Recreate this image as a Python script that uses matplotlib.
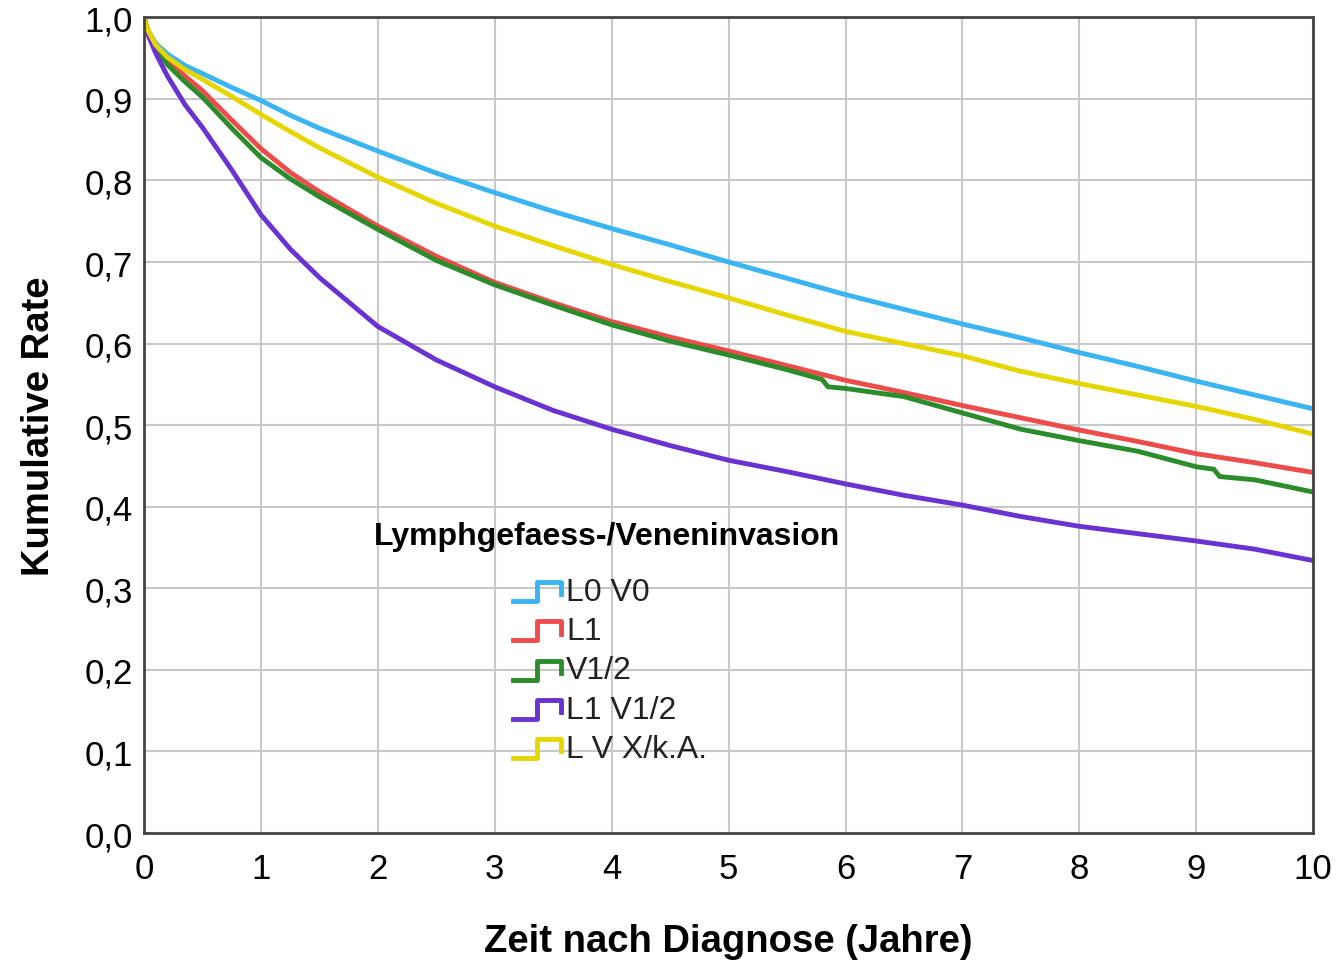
import matplotlib
matplotlib.use('Agg')
import matplotlib.pyplot as plt
from matplotlib.lines import Line2D
from matplotlib.legend_handler import HandlerBase

plt.rcParams['font.family'] = ['Liberation Sans', 'DejaVu Sans']

years = [0, 0.03, 0.1, 0.2, 0.35, 0.5, 0.75, 1, 1.25, 1.5, 2, 2.5, 3, 3.5, 4, 4.5, 5,
         5.5, 6, 6.5, 7, 7.5, 8, 8.5, 9, 9.5, 10]
l0v0 = [1.0, 0.985, 0.968, 0.955, 0.941, 0.931, 0.914, 0.898, 0.880, 0.864, 0.836,
        0.809, 0.785, 0.762, 0.741, 0.721, 0.700, 0.680, 0.660, 0.642, 0.624,
        0.607, 0.589, 0.572, 0.554, 0.537, 0.520]
l1 = [1.0, 0.985, 0.965, 0.947, 0.928, 0.910, 0.874, 0.839, 0.810, 0.786, 0.744,
      0.707, 0.675, 0.650, 0.627, 0.608, 0.591, 0.573, 0.555, 0.540, 0.524,
      0.509, 0.494, 0.480, 0.465, 0.454, 0.442]
l1v12 = [1.0, 0.980, 0.956, 0.928, 0.893, 0.865, 0.813, 0.758, 0.716, 0.681, 0.621,
         0.580, 0.547, 0.518, 0.495, 0.475, 0.457, 0.443, 0.428, 0.414, 0.402,
         0.388, 0.376, 0.367, 0.358, 0.348, 0.334]
lvx = [1.0, 0.985, 0.966, 0.951, 0.936, 0.924, 0.903, 0.881, 0.860, 0.840, 0.804,
       0.772, 0.744, 0.720, 0.697, 0.676, 0.656, 0.635, 0.615, 0.600, 0.585,
       0.566, 0.551, 0.537, 0.523, 0.507, 0.489]

years_v = [0, 0.03, 0.1, 0.2, 0.35, 0.5, 0.75, 1, 1.25, 1.5, 2, 2.5, 3, 3.5, 4, 4.5, 5,
           5.5, 5.8, 5.85, 6, 6.5, 7, 7.5, 8, 8.5, 9, 9.15, 9.2, 9.5, 10]
v12 = [1.0, 0.984, 0.962, 0.942, 0.921, 0.902, 0.864, 0.828, 0.802, 0.780, 0.740,
       0.702, 0.672, 0.647, 0.623, 0.603, 0.586, 0.568, 0.556, 0.547, 0.545,
       0.535, 0.515, 0.495, 0.481, 0.468, 0.449, 0.446, 0.437, 0.433, 0.418]

series = [
    ('L0 V0', years, l0v0, '#3AB4F2'),
    ('L1', years, l1, '#EE4B4B'),
    ('V1/2', years_v, v12, '#2A8C2A'),
    ('L1 V1/2', years, l1v12, '#6A32D0'),
    ('L V X/k.A.', years, lvx, '#E6D600'),
]


class StepHandler(HandlerBase):
    def create_artists(self, legend, orig_handle, xdescent, ydescent,
                       width, height, fontsize, trans):
        w, h = width, height
        xs = [0, 0.5 * w, 0.5 * w, w, w]
        ys = [-0.05 * h, -0.05 * h, 0.8 * h, 0.8 * h, 0.25 * h]
        ln = Line2D([x - xdescent for x in xs], [y - ydescent for y in ys],
                    color=orig_handle.get_color(), lw=orig_handle.get_linewidth())
        ln.set_transform(trans)
        return [ln]


fig = plt.figure(figsize=(13.37, 9.62), dpi=100)
ax = fig.add_axes([0.1077, 0.133, 0.8745, 0.848])

lines = []
for name, t, vals, col in series:
    ln, = ax.plot(t, vals, color=col, lw=3.5, label=name, solid_joinstyle='round')
    lines.append(ln)

ax.set_xlim(0, 10)
ax.set_ylim(0, 1.0)
ax.set_xticks(range(0, 11))
ax.set_yticks([i / 10 for i in range(11)])
ax.set_yticklabels([f'{i / 10:.1f}'.replace('.', ',') for i in range(11)])
ax.grid(True, color='#c8c8c8', lw=1.5)
ax.set_axisbelow(True)
ax.tick_params(length=0, labelsize=25, colors='black')
ax.tick_params(axis='x', pad=14)
ax.tick_params(axis='y', pad=8)
for s in ax.spines.values():
    s.set_color('#444444')
    s.set_linewidth(2)

ax.set_xlabel('Zeit nach Diagnose (Jahre)', fontsize=27.5, fontweight='bold', labelpad=27)
ax.set_ylabel('Kumulative Rate', fontsize=27.5, fontweight='bold', labelpad=20)

ax.text(0.396, 0.364, 'Lymphgefaess-/Veneninvasion', transform=ax.transAxes,
        ha='center', va='center', fontsize=23, fontweight='bold')
leg = ax.legend(handles=lines, handler_map={Line2D: StepHandler()},
                loc='upper left', bbox_to_anchor=(0.316, 0.314),
                frameon=False, fontsize=23, borderpad=0,
                handlelength=1.5, handletextpad=0.15, labelspacing=0.29,
                borderaxespad=0)
for txt in leg.get_texts():
    txt.set_color('#222222')

plt.savefig('out.png', dpi=100)
plt.close()
